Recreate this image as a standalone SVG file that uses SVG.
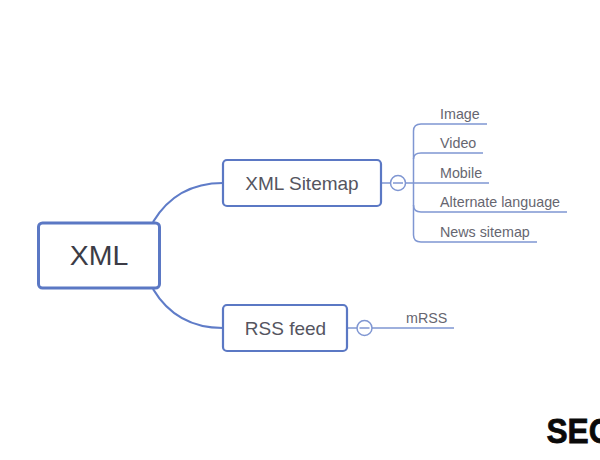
<svg xmlns="http://www.w3.org/2000/svg" width="600" height="460" viewBox="0 0 600 460">
<style>
text{font-family:"Liberation Sans",Arial,sans-serif;fill:#55555f}
.box{fill:#fff;stroke:#5b78c4}
.c{fill:none;stroke:#7f96d2;stroke-width:1.5}
.m{fill:none;stroke:#5f7cc8;stroke-width:2.2}
.leaf{font-size:14.300px;fill:#666670}
.tp{font-size:19px}
</style>
<rect width="600" height="460" fill="#fff"/>
<g id="connectors">
<path class="m" d="M153 222C168 197 190 183 223 183"/>
<path class="m" d="M153 289C168 314 190 328 223 328"/>
<path class="c" d="M382 183H391M405 183H489"/>
<path class="c" d="M413.500 183V131Q413.500 124 421 124H487"/>
<path class="c" d="M413.500 159Q413.500 153 421 153H483"/>
<path class="c" d="M413.500 183V235Q413.500 242 421 242H537"/>
<path class="c" d="M413.500 205Q413.500 212 421 212H567"/>
<path class="c" d="M348 328H357M372 328H454"/>
</g>
<g id="node-xml"><rect class="box" x="38.500" y="223" width="121" height="65" rx="4" stroke-width="3"/><text x="99" y="265" font-size="28.500" text-anchor="middle" style="fill:#3c3c46">XML</text></g>
<g id="node-sitemap"><rect class="box" x="223" y="160" width="158" height="46" rx="4" stroke-width="2.200"/><text x="302" y="189.500" class="tp" text-anchor="middle">XML Sitemap</text></g>
<g id="node-rss"><rect class="box" x="223" y="305" width="124" height="46" rx="4" stroke-width="2.200"/><text x="285.500" y="334.500" class="tp" text-anchor="middle">RSS feed</text></g>
<g id="toggle-sitemap"><circle class="c" cx="398" cy="183" r="7.500"/><path class="c" d="M393 183H403"/></g>
<g id="toggle-rss"><circle class="c" cx="364.500" cy="328" r="7.500"/><path class="c" d="M359.500 328H369.500"/></g>
<g id="leaf-image"><text class="leaf" x="440" y="119">Image</text></g>
<g id="leaf-video"><text class="leaf" x="440" y="148">Video</text></g>
<g id="leaf-mobile"><text class="leaf" x="440" y="178">Mobile</text></g>
<g id="leaf-alt"><text class="leaf" x="440" y="207">Alternate language</text></g>
<g id="leaf-news"><text class="leaf" x="440" y="237">News sitemap</text></g>
<g id="leaf-mrss"><text class="leaf" x="406" y="323">mRSS</text></g>
<text transform="translate(546.500 443) scale(.88 1)" font-size="36" font-weight="700" style="fill:#0a0a0a;stroke:#0a0a0a;stroke-width:.8">SEO</text>
</svg>
